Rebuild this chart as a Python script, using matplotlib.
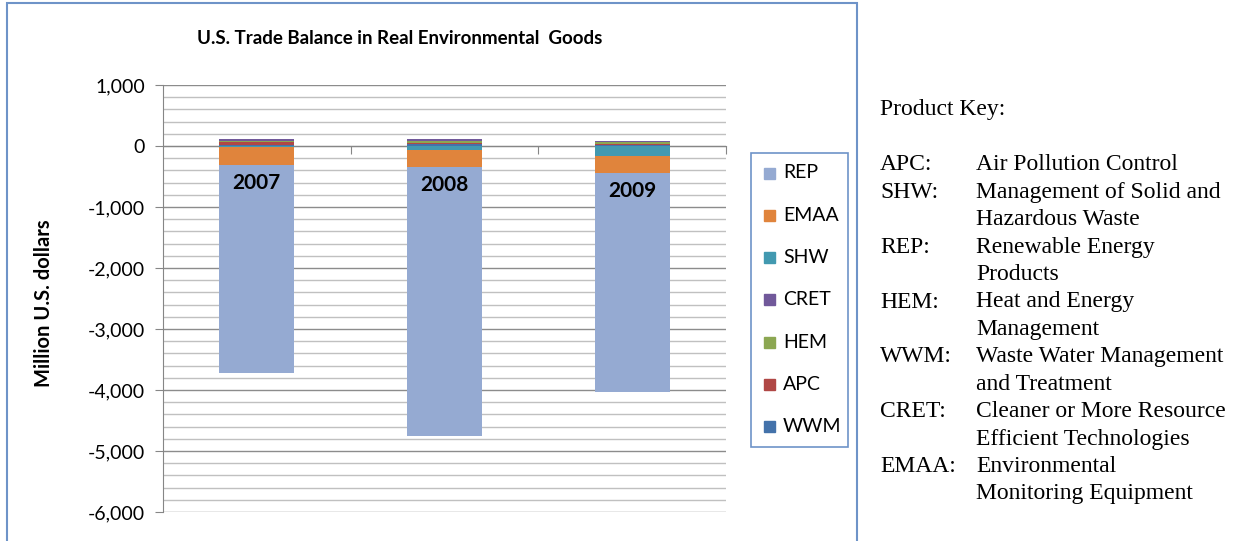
import numpy as np
import matplotlib.pyplot as plt
from matplotlib.ticker import MultipleLocator, FuncFormatter
from matplotlib.patches import Rectangle

years = ["2007", "2008", "2009"]

# series in Excel order (first series sits next to zero)
series = ["WWM", "APC", "HEM", "CRET", "SHW", "EMAA", "REP"]
values = {
    "WWM":  [20, 30, 20],
    "APC":  [40, 25, 15],
    "HEM":  [15, 35, 30],
    "CRET": [40, 25, 15],
    "SHW":  [-15, -60, -160],
    "EMAA": [-295, -290, -280],
    "REP":  [-3410, -4404, -3590],
}
colors = {
    "WWM": "#4372AA", "APC": "#B04745", "HEM": "#8CA752", "CRET": "#71599A",
    "SHW": "#4299B0", "EMAA": "#E0843C", "REP": "#95AAD2",
}
legend_order = ["REP", "EMAA", "SHW", "CRET", "HEM", "APC", "WWM"]

key_codes = ["APC:", "SHW:", "", "REP:", "", "HEM:", "", "WWM:", "", "CRET:", "", "EMAA:", ""]
key_text = ["Air Pollution Control", "Management of Solid and", "Hazardous Waste",
            "Renewable Energy", "Products", "Heat and Energy", "Management",
            "Waste Water Management", "and Treatment", "Cleaner or More Resource",
            "Efficient Technologies", "Environmental", "Monitoring Equipment"]

W, H = 1241, 541
plt.rcParams['font.family'] = ['Lato', 'DejaVu Sans']

fig = plt.figure(figsize=(W / 100, H / 100), dpi=100)
ax = fig.add_axes([163 / W, 1 - 512 / H, (726 - 163) / W, (512 - 85) / H])

x = np.arange(len(years))
pos_base = np.zeros(len(years))
neg_base = np.zeros(len(years))
for name in series:
    v = np.array(values[name], dtype=float)
    base = np.where(v >= 0, pos_base, neg_base)
    ax.bar(x, v, bottom=base, width=0.4, color=colors[name], linewidth=0, zorder=2)
    pos_base += np.where(v >= 0, v, 0)
    neg_base += np.where(v < 0, v, 0)

# year labels at the inside base of the REP segment
rep_top = neg_base - np.array(values["REP"])
for i, yr in enumerate(years):
    ax.annotate(yr, (x[i], rep_top[i]), xytext=(0, -13), textcoords="offset points",
                ha="center", va="center", fontsize=15, fontweight="bold", zorder=3)

ax.set_xlim(-0.5, 2.5)
ax.set_ylim(-6000, 1000)
ax.yaxis.set_major_locator(MultipleLocator(1000))
ax.yaxis.set_minor_locator(MultipleLocator(200))
ax.yaxis.set_major_formatter(FuncFormatter(lambda v, p: f"{int(v):,}"))
ax.grid(axis="y", which="major", color="#8C8C8C", linewidth=1, zorder=0)
ax.grid(axis="y", which="minor", color="#C0C0C0", linewidth=1, zorder=0)
ax.set_axisbelow(True)

ax.spines["top"].set_visible(False)
ax.spines["right"].set_visible(False)
ax.spines["left"].set_color("#868686")
ax.spines["bottom"].set_color("#868686")
ax.spines["bottom"].set_position(("data", 0))
ax.spines["bottom"].set_zorder(1)
ax.set_xticks([0.5, 1.5, 2.5])
ax.set_xticklabels([])
ax.tick_params(axis="x", length=6, color="#868686", direction="out")
ax.tick_params(axis="y", which="major", length=6, color="#868686", labelsize=14, pad=7)
ax.tick_params(axis="y", which="minor", length=0)
ax.set_ylabel("Million U.S. dollars", fontsize=14.5, fontweight="bold")
ax.yaxis.set_label_coords(54 / W, 1 - 303 / H, transform=fig.transFigure)

fig.text(400 / W, 1 - 38 / H, "U.S. Trade Balance in Real Environmental  Goods",
         ha="center", va="center", fontsize=13.5, fontweight="bold")

# chart frame
fig.patches.append(Rectangle((7 / W, -0.02), (857 - 7) / W, 1.02 - 3 / H,
                             transform=fig.transFigure, fill=False,
                             edgecolor="#6E93C8", linewidth=1.5))

# legend box
fig.patches.append(Rectangle((751 / W, 1 - 447 / H), (848 - 751) / W, (447 - 153) / H,
                             transform=fig.transFigure, fill=False,
                             edgecolor="#6E93C8", linewidth=1.2))
for i, name in enumerate(legend_order):
    yc = 173 + i * 42.3
    fig.patches.append(Rectangle((764 / W, 1 - (yc + 5.5) / H), 11 / W, 11 / H,
                                 transform=fig.transFigure, color=colors[name]))
    fig.text(783 / W, 1 - yc / H, name, ha="left", va="center", fontsize=14)

# product key
serif = ["Liberation Serif", "DejaVu Serif"]
fig.text(880 / W, 1 - 110 / H, "Product Key:", ha="left", va="center",
         fontsize=17, family=serif)
for i, (c, t) in enumerate(zip(key_codes, key_text)):
    yc = 165 + i * 27.4
    if c:
        fig.text(880 / W, 1 - yc / H, c, ha="left", va="center",
                 fontsize=17, family=serif)
    fig.text(976 / W, 1 - yc / H, t, ha="left", va="center",
             fontsize=17, family=serif)

fig.savefig("out.png", dpi=100)
